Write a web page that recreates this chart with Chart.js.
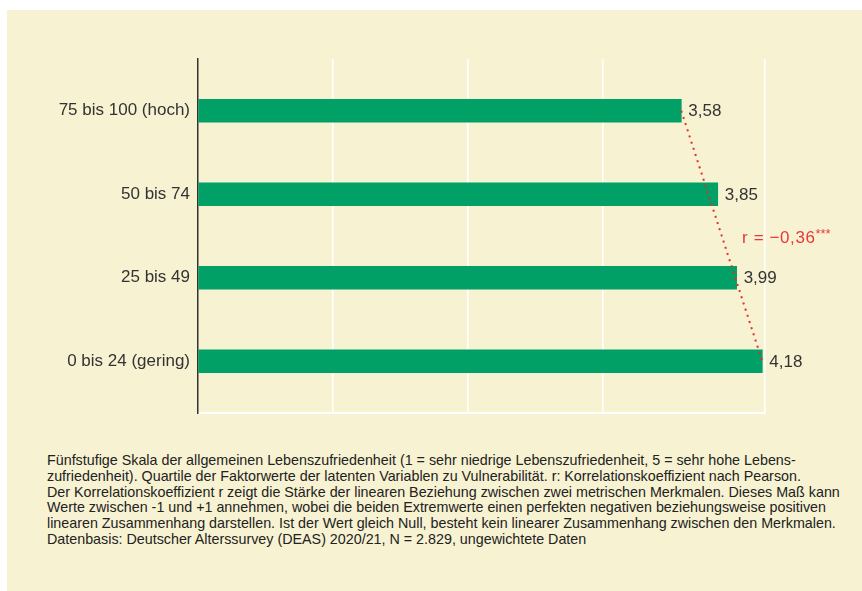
<!DOCTYPE html>
<html>
<head>
<meta charset="utf-8">
<script src="https://cdn.jsdelivr.net/npm/chart.js@4"></script>
<style>
    body { margin: 0; background: #fff; width: 862px; height: 591px; position: relative; overflow: hidden; font-family: "Liberation Sans", Arial, sans-serif; }
    #panel { position: absolute; left: 7px; top: 10px; right: 0; bottom: 0; background: #f7f2d1; }
    #wrap { position: absolute; left: 0; top: 0; width: 862px; height: 440px; }
    #nota { position: absolute; left: 47px; top: 453px; font-size: 14.3px; line-height: 15.8px; color: #222; white-space: nowrap; }
</style>
</head>
<body>
<div id="panel"></div>
<div id="wrap"><canvas id="grafico"></canvas></div>
<div id="nota">
    Fünfstufige Skala der allgemeinen Lebenszufriedenheit (1 = sehr niedrige Lebenszufriedenheit, 5 = sehr hohe Lebens-<br>
    zufriedenheit). Quartile der Faktorwerte der latenten Variablen zu Vulnerabilität. r: Korrelationskoeffizient nach Pearson.<br>
    Der Korrelationskoeffizient r zeigt die Stärke der linearen Beziehung zwischen zwei metrischen Merkmalen. Dieses Maß kann<br>
    Werte zwischen -1 und +1 annehmen, wobei die beiden Extremwerte einen perfekten negativen beziehungsweise positiven<br>
    linearen Zusammenhang darstellen. Ist der Wert gleich Null, besteht kein linearer Zusammenhang zwischen den Merkmalen.<br>
    Datenbasis: Deutscher Alterssurvey (DEAS) 2020/21, N = 2.829, ungewichtete Daten
</div>
<script>
// datos
const categorias = ['75 bis 100 (hoch)', '50 bis 74', '25 bis 49', '0 bis 24 (gering)'];
const valores = [3.58, 3.85, 3.99, 4.18];
const textoR = 'r = \u22120,36';
const estrellas = '***';

const verde = '#00a066';
const rojo = '#e8383d';
const fuente = '"Liberation Sans", Arial, sans-serif';

// etiquetas de valor y texto de correlacion
const etiquetas = {
    id: 'etiquetas',
    afterDatasetsDraw(chart) {
        const ctx = chart.ctx;
        const meta = chart.getDatasetMeta(0);
        ctx.save();
        ctx.font = '17px ' + fuente;
        ctx.fillStyle = '#333';
        ctx.textBaseline = 'middle';
        meta.data.forEach((bar, i) => {
            ctx.fillText(valores[i].toFixed(2).replace('.', ','), bar.x + 7, bar.y + 1);
        });
        const x = chart.scales.x.getPixelForValue(4.03);
        const y = chart.scales.y.getPixelForValue(1.5) + 2;
        ctx.fillStyle = rojo;
        ctx.letterSpacing = '0.6px';
        ctx.fillText(textoR, x, y);
        const w = ctx.measureText(textoR).width;
        ctx.letterSpacing = '0px';
        ctx.font = '13px ' + fuente;
        ctx.fillText(estrellas, x + w, y - 4);
        ctx.restore();
    }
};

new Chart(document.getElementById('grafico'), {
    data: {
        datasets: [{
            type: 'bar',
            data: valores.map((v, i) => ({ x: v, y: i })),
            backgroundColor: verde,
            barThickness: 23,
            order: 2
        }, {
            type: 'line',
            data: [{ x: valores[0], y: 0 }, { x: valores[valores.length - 1], y: valores.length - 1 }],
            borderColor: '#e52d2d',
            borderWidth: 2,
            borderDash: [2, 4.5],
            pointRadius: 0,
            fill: false,
            order: 1
        }]
    },
    options: {
        indexAxis: 'y',
        responsive: true,
        maintainAspectRatio: false,
        animation: false,
        layout: { padding: { left: 0, right: 97, top: 59, bottom: 27 } },
        plugins: { legend: { display: false }, tooltip: { enabled: false } },
        scales: {
            x: {
                type: 'linear',
                min: 0,
                max: 4.2,
                afterFit: s => { s.height = 0; },
                ticks: { display: false, stepSize: 1 },
                grid: {
                    color: c => c.tick && c.tick.value === 0 ? 'rgba(0,0,0,0)' : '#ffffff',
                    lineWidth: 1.5,
                    drawTicks: false
                },
                border: { color: '#ffffff', width: 2 }
            },
            y: {
                type: 'linear',
                reverse: true,
                offset: false,
                min: -0.62,
                max: 3.62,
                afterFit: s => { s.width = 198; },
                ticks: {
                    stepSize: 1,
                    includeBounds: false,
                    padding: 8,
                    color: '#333',
                    font: { family: fuente, size: 17 },
                    callback: v => categorias[v] ?? ''
                },
                grid: { display: false, drawTicks: false },
                border: { color: '#333', width: 1.5 }
            }
        }
    },
    plugins: [etiquetas]
});
</script>
</body>
</html>
